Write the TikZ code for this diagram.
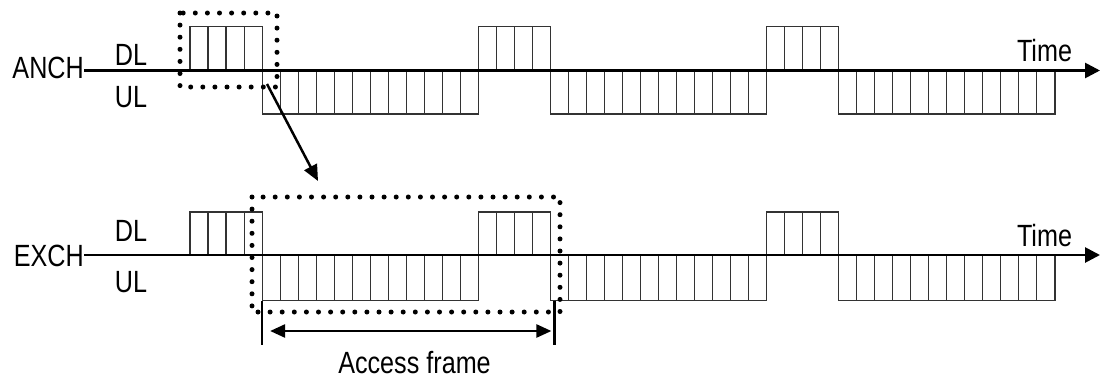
\documentclass[tikz,border=0pt]{standalone}
\usepackage{fontspec}
\setmainfont{Liberation Sans}[FakeStretch=0.82]
\usepackage{tikz}
\usetikzlibrary{arrows.meta}
\tikzset{
  slot/.style={draw=black!80,line width=1.1pt},
  timeaxis/.style={line width=2.7pt,-{Triangle[length=15pt,width=15pt]}},
  dotbox/.style={line width=5pt,line cap=round,dash pattern=on 0pt off 12.1pt},
  lbl/.style={font=\fontsize{30.7}{32}\selectfont,inner sep=0pt},
  pointer/.style={line width=2.5pt,-{Triangle[length=16pt,width=14pt]}},
  span/.style={line width=2.5pt,{Triangle[length=15pt,width=13pt]}-{Triangle[length=15pt,width=13pt]}}
}
% row of n slots: x start, y top, y bottom, n
\newcommand{\slotrow}[4]{\foreach \k in {1,...,#4}{
  \draw[slot] ({#1+(\k-1)*18.02},#2) rectangle ({#1+\k*18.02},#3);}}

\begin{document}
\begin{tikzpicture}[x=1pt,y=-1pt]
\useasboundingbox (0,0) rectangle (1102,380);
% ---- ANCH ----
\foreach \f in {0,1,2}{
  \slotrow{190+\f*288.3}{26.5}{70.5}{4}
  \slotrow{262.1+\f*288.3}{70.5}{114}{12}}
\node[lbl,anchor=east] (anch) at (84,68) {ANCH};
\node[lbl] (dlA) at (131,54.5) {DL};
\node[lbl] (ulA) at (131,97.5) {UL};
\node[lbl] (timeA) at (1044.5,50.5) {Time};
\coordinate (axA0) at (84,70.5);
\coordinate (axA1) at (1100,70.5);
\draw[timeaxis] (axA0) -- (axA1);
\draw[dotbox] (180,13) rectangle (277,87);
% ---- EXCH ----
\foreach \f in {0,1,2}{
  \slotrow{190+\f*288.3}{212}{255}{4}
  \slotrow{262.1+\f*288.3}{255}{300.5}{12}}
\node[lbl,anchor=east] (exch) at (84,256) {EXCH};
\node[lbl] (dlE) at (131,231) {DL};
\node[lbl] (ulE) at (131,282.5) {UL};
\node[lbl] (timeE) at (1044.5,236) {Time};
\coordinate (axE0) at (84,255);
\coordinate (axE1) at (1100,255);
\draw[timeaxis] (axE0) -- (axE1);
\draw[dotbox] (252,197) rectangle (560,312);
% ---- zoom pointer ----
\coordinate (zp0) at (267,84);
\coordinate (zp1) at (318,181);
\draw[pointer] (zp0) -- (zp1);
% ---- access frame ----
\coordinate (af0) at (262.1,300.5);
\coordinate (af1) at (554.4,300.5);
\draw[line width=2.5pt] (af0) -- ++(0,44);
\draw[line width=2.5pt] (af1) -- ++(0,44);
\draw[span] ([xshift=8pt,yshift=-30.5pt]af0) -- ([xshift=-3pt,yshift=-30.5pt]af1);
\node[lbl] (afl) at (414.5,363) {Access frame};
\end{tikzpicture}
\end{document}
